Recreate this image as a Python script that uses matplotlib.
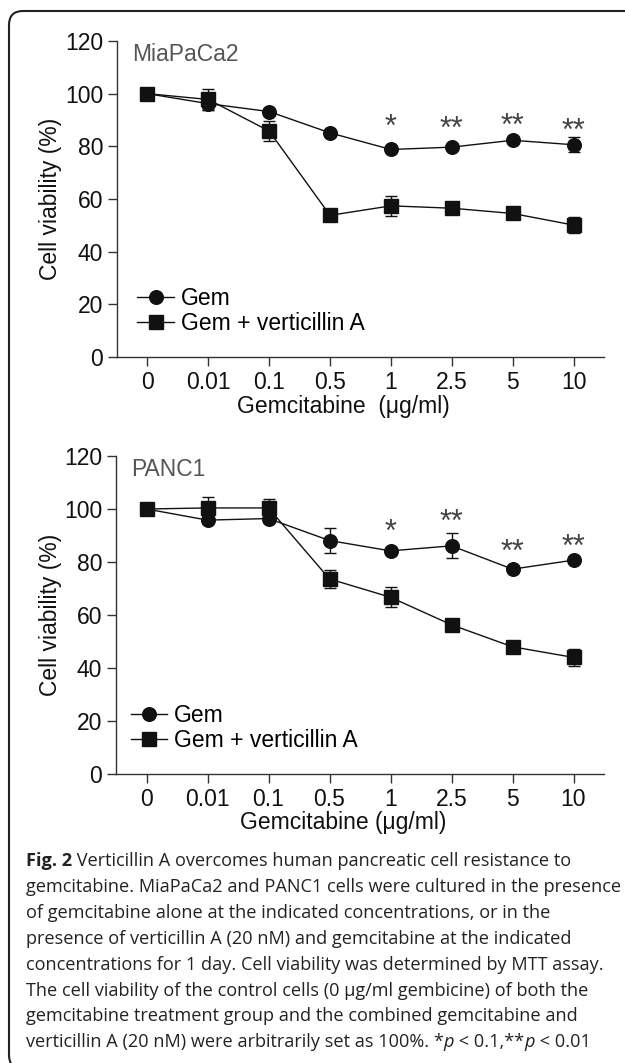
import matplotlib.pyplot as plt
from matplotlib.patches import FancyBboxPatch
from matplotlib.transforms import IdentityTransform

# ---------------- data ----------------
doses = ["0", "0.01", "0.1", "0.5", "1", "2.5", "5", "10"]

# MiaPaCa2
mia_gem = [100, 96.2, 93.2, 85.1, 78.8, 79.7, 82.3, 80.6]
mia_gem_err = [0.5, 2.5, 0.8, 0.8, 0.8, 0.8, 0.8, 2.8]
mia_va = [100, 97.8, 85.8, 53.8, 57.4, 56.5, 54.5, 50.1]
mia_va_err = [0.5, 3.9, 3.8, 1.0, 3.8, 1.2, 1.2, 3.0]
mia_stars = ["*", "**", "**", "**"]
mia_star_y = [90.4, 89.7, 91.1, 89.2]

# PANC1
panc_gem = [100, 95.8, 96.4, 88.1, 84.2, 86.1, 77.3, 80.7]
panc_gem_err = [0.5, 1.0, 1.0, 4.7, 0.8, 4.7, 0.8, 0.8]
panc_va = [100, 100.4, 100.4, 73.6, 66.7, 56.3, 48.0, 44.0]
panc_va_err = [0.5, 4.2, 3.5, 3.3, 3.7, 1.2, 1.2, 3.3]
panc_stars = ["*", "**", "**", "**"]
panc_star_y = [94.6, 98.2, 87.1, 89.0]
star_idx = [4, 5, 6, 7]

W, H = 625, 1063
plt.rcParams['font.family'] = ['Liberation Sans', 'DejaVu Sans']
FS = 16.5

fig = plt.figure(figsize=(W / 100, H / 100), dpi=100)

def make_panel(rect, name, gem, gem_err, va, va_err, stars, star_y, xlab, leg_x):
    l, t, r, b = rect
    ax = fig.add_axes([l / W, 1 - b / H, (r - l) / W, (b - t) / H])
    x = list(range(len(doses)))
    c1 = ax.errorbar(x, gem, yerr=gem_err, color='#111111', lw=1, marker='o', ms=9.8,
                     capsize=4.3, elinewidth=1, capthick=1, zorder=3)
    c2 = ax.errorbar(x, va, yerr=va_err, color='#111111', lw=1, marker='s', ms=9.6,
                     capsize=4.3, elinewidth=1, capthick=1, zorder=3)
    for i, s, yv in zip(star_idx, stars, star_y):
        ax.annotate(s, xy=(i, yv), xytext=(0, -12.5), textcoords='offset points',
                    ha='center', va='baseline', fontsize=22, color='#444444')
    ax.set_xlim(-0.5, 7.5)
    ax.set_ylim(0, 120)
    ax.set_yticks([0, 20, 40, 60, 80, 100, 120])
    ax.set_xticks(x)
    ax.set_xticklabels(doses)
    for sp in ['top', 'right']:
        ax.spines[sp].set_visible(False)
    for sp in ['left', 'bottom']:
        ax.spines[sp].set_color('#333333')
        ax.spines[sp].set_linewidth(1)
    ax.tick_params(direction='out', length=6.5, width=1, color='#333333',
                   labelsize=FS, labelcolor='#111111')
    ax.tick_params(axis='y', pad=3.5)
    ax.tick_params(axis='x', pad=3.8)
    ax.set_ylabel('Cell viability (%)', fontsize=FS, color='#111111')
    ax.yaxis.set_label_coords((51 - l) / (r - l), 0.5)
    ax.yaxis.label.set_va('center')
    ax.set_xlabel(xlab, fontsize=FS, color='#111111')
    ax.xaxis.set_label_coords((343 - l) / (r - l), -49 / (b - t))
    ax.xaxis.label.set_va('center')
    ax.text(0.031, 0.936, name, transform=ax.transAxes, fontsize=FS,
            color='#555555', va='baseline')
    ax.legend([c1.lines[0], c2.lines[0]], ['Gem', 'Gem + verticillin A'],
              loc='center left', bbox_to_anchor=(leg_x, 0.145), frameon=False,
              fontsize=FS, handlelength=1.6, handletextpad=0.3, labelspacing=0.08,
              borderpad=0, borderaxespad=0)
    return ax

make_panel((117, 41, 604, 357), 'MiaPaCa2', mia_gem, mia_gem_err, mia_va, mia_va_err,
           mia_stars, mia_star_y, 'Gemcitabine  (\u03bcg/ml)', 0.042)
make_panel((116, 456, 604, 774), 'PANC1', panc_gem, panc_gem_err, panc_va, panc_va_err,
           panc_stars, panc_star_y, 'Gemcitabine (\u03bcg/ml)', 0.030)

# ---------------- caption ----------------
cap_font = ['Open Sans', 'DejaVu Sans']
CFS = 13.1
x0 = 26
base0 = 866
step = 25.9

lines = [
    [("Fig. 2", {'weight': 'bold'}),
     (" Verticillin A overcomes human pancreatic cell resistance to", {})],
    [("gemcitabine. MiaPaCa2 and PANC1 cells were cultured in the presence", {})],
    [("of gemcitabine alone at the indicated concentrations, or in the", {})],
    [("presence of verticillin A (20 nM) and gemcitabine at the indicated", {})],
    [("concentrations for 1 day. Cell viability was determined by MTT assay.", {})],
    [("The cell viability of the control cells (0 \u03bcg/ml gembicine) of both the", {})],
    [("gemcitabine treatment group and the combined gemcitabine and", {})],
    [("verticillin A (20 nM) were arbitrarily set as 100%. *", {}),
     ("p", {'style': 'italic'}), (" < 0.1,**", {}), ("p", {'style': 'italic'}),
     (" < 0.01", {})],
]

chained = []
for k, pieces in enumerate(lines):
    y = base0 + k * step
    prev = None
    for s, kw in pieces:
        t = fig.text(x0 / W, 1 - y / H, s, fontsize=CFS, family=cap_font,
                     va='baseline', color='#222222', **kw)
        if prev is not None:
            chained.append((prev, t))
        prev = t

# put each piece right after the one before it
fig.canvas.draw()
r = fig.canvas.get_renderer()
for src, t in chained:
    bb = src.get_window_extent(r)
    t.set_x(bb.x1 / W)
    fig.canvas.draw()

# border
box = FancyBboxPatch((9, -6), 650, H - 11 + 6, boxstyle="round,pad=0,rounding_size=14",
                     transform=IdentityTransform(), fill=False, ec='#222222', lw=1.5)
fig.add_artist(box)

fig.savefig('out.png', dpi=100)
